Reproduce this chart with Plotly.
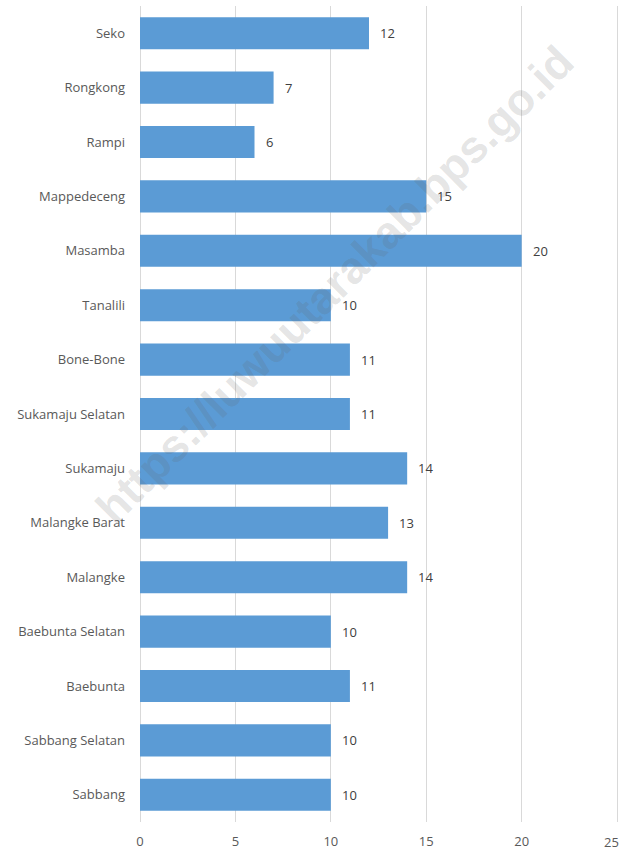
import plotly.graph_objects as go

# Districts (top to bottom) and their counts
districts = [
    "Seko", "Rongkong", "Rampi", "Mappedeceng", "Masamba", "Tanalili",
    "Bone-Bone", "Sukamaju Selatan", "Sukamaju", "Malangke Barat",
    "Malangke", "Baebunta Selatan", "Baebunta", "Sabbang Selatan", "Sabbang",
]
counts = [12, 7, 6, 15, 20, 10, 11, 11, 14, 13, 14, 10, 11, 10, 10]
x_ticks = [0, 5, 10, 15, 20, 25]

BAR_COLOR = "#5B9BD5"
GRID_COLOR = "#D9D9D9"
FONT = "Open Sans, Liberation Sans, Arial, sans-serif"

fig = go.Figure(
    go.Bar(
        x=counts,
        y=districts,
        orientation="h",
        marker=dict(color=BAR_COLOR, line=dict(width=0)),
        hoverinfo="skip",
    )
)

# Value labels just right of each bar end
for name, val in zip(districts, counts):
    fig.add_annotation(
        x=val, y=name, text=str(val), showarrow=False,
        xanchor="left", xshift=9, yanchor="middle",
        font=dict(family=FONT, size=13, color="#404040"),
    )

# Last x tick label sits at the right edge; nudge it in so it stays visible
tick_text = [str(t) for t in x_ticks[:-1]] + [""]
fig.add_annotation(
    x=x_ticks[-1], y=0, xref="x", yref="paper", text=str(x_ticks[-1]),
    showarrow=False, xanchor="center", yanchor="top", xshift=-6, yshift=-10,
    borderpad=0,
    font=dict(family=FONT, size=13, color="#595959"),
)

# Diagonal source watermark
fig.add_annotation(
    x=0.5, y=0.5, xref="paper", yref="paper",
    text="<b>https://luwuutarakab.bps.go.id</b>",
    showarrow=False, textangle=-45,
    font=dict(family="Liberation Sans, Arial, sans-serif", size=45,
              color="rgba(100,100,100,0.18)"),
    xshift=-45, yshift=130,
)

fig.update_layout(
    width=623, height=850,
    margin=dict(l=139.5, r=4, t=6, b=28, autoexpand=False),
    paper_bgcolor="white", plot_bgcolor="white",
    bargap=0.41,
    showlegend=False,
    font=dict(family=FONT, size=13, color="#595959"),
)
fig.update_xaxes(
    range=[0, 25.1], tickvals=x_ticks, ticktext=tick_text,
    showgrid=True, gridcolor=GRID_COLOR,
    gridwidth=1, zeroline=True, zerolinecolor=GRID_COLOR, zerolinewidth=1,
    showline=False, ticks="", ticklabelstandoff=10, automargin=False,
    ticklabeloverflow="allow",
    tickfont=dict(size=13, color="#595959"),
)
fig.update_yaxes(
    autorange="reversed", showgrid=False, zeroline=False, showline=False,
    ticks="", ticklabelstandoff=14, automargin=False,
    tickfont=dict(size=13, color="#595959"),
)

fig.write_html("out.html")
